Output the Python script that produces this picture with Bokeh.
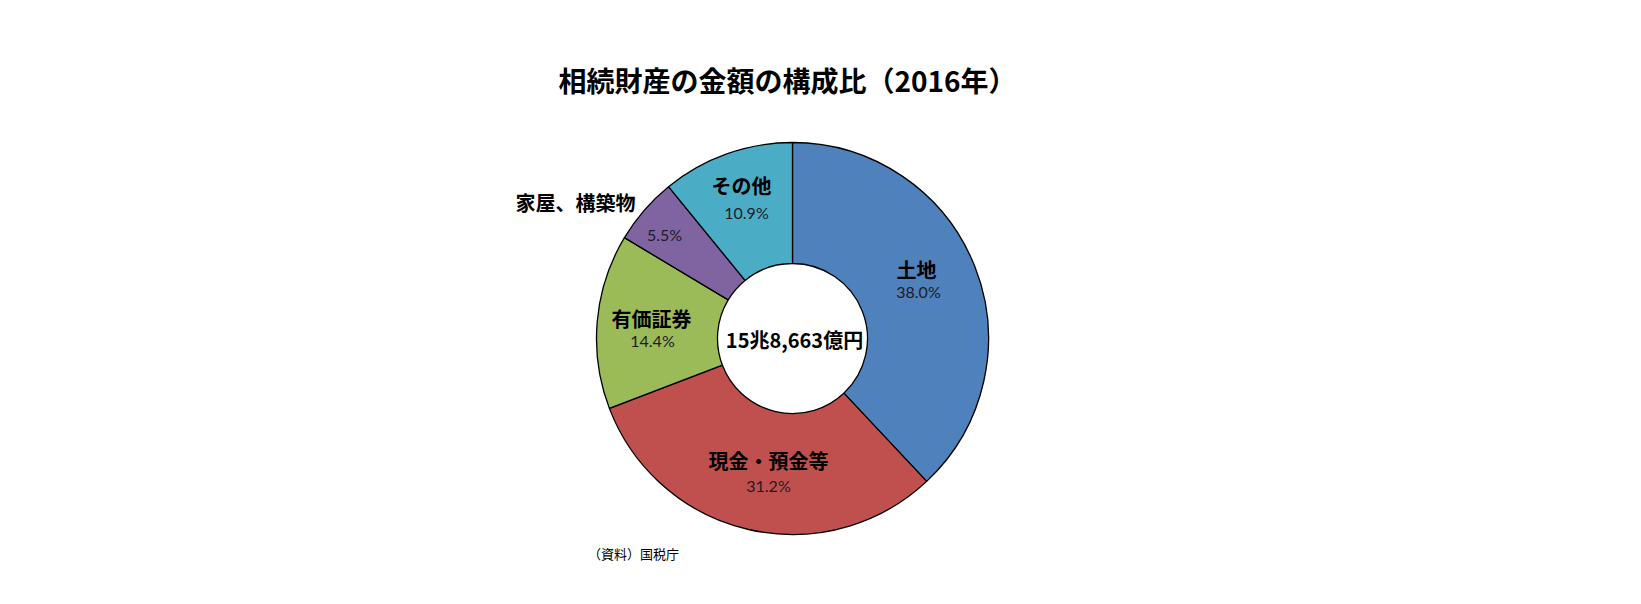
import numpy as np
from bokeh.plotting import figure
from bokeh.models import Range1d
from bokeh.core.properties import value
from bokeh.embed import file_html
from bokeh.resources import INLINE

# data (share of inheritance assets, 2016)
categories = ["土地", "現金・預金等", "有価証券", "家屋、構築物", "その他"]
shares = [38.0, 31.2, 14.4, 5.5, 10.9]
pct_labels = ["38.0%", "31.2%", "14.4%", "5.5%", "10.9%"]
colors = ["#4F81BD", "#C0504D", "#9BBB59", "#8064A2", "#4BACC6"]
total_label = "15兆8,663億円"
title_text = "相続財産の金額の構成比（2016年）"
source_text = "（資料）国税庁"

# layout (page pixels)
W, H = 1624, 586
CX, CY = 792, 338
R_OUT, R_IN = 196, 75
name_pos = [(916, 269), (768, 460), (651, 318), (575, 202), (741, 185)]
pct_pos = [(918, 291), (768, 485), (652, 340), (664, 234), (746, 212)]

JP = "Noto Sans CJK JP"


def sy(y):
    # screen y -> data y (data y grows upward)
    return 604 - y


p = figure(width=W, height=H, output_backend="svg", toolbar_location=None,
           x_range=Range1d(0, W), y_range=Range1d(604 - H, 604),
           x_axis_type=None, y_axis_type=None, min_border=0)
p.grid.grid_line_color = None
p.outline_line_color = None

frac = np.array(shares) / sum(shares)
cum = np.concatenate([[0], np.cumsum(frac)])
start = np.pi / 2 - cum[:-1] * 2 * np.pi
end = np.pi / 2 - cum[1:] * 2 * np.pi

p.annular_wedge(x=CX, y=sy(CY), inner_radius=R_IN, outer_radius=R_OUT,
                start_angle=start, end_angle=end, direction="clock",
                fill_color=colors, line_color="black", line_width=1.3)

p.text(x=[q[0] for q in name_pos], y=[sy(q[1]) for q in name_pos], text=categories,
       text_font=value(JP), text_font_style="bold", text_font_size="20px",
       text_color="black", text_align="center", text_baseline="middle")
p.text(x=[q[0] for q in pct_pos], y=[sy(q[1]) for q in pct_pos], text=pct_labels,
       text_font=value("Lato"), text_font_size="16px",
       text_color="#1c1c28", text_align="center", text_baseline="middle")

p.text(x=[CX + 2], y=[sy(CY + 1)], text=[total_label], text_font=value(JP),
       text_font_style="bold", text_font_size="20px", text_color="black",
       text_align="center", text_baseline="middle")
p.text(x=[787], y=[sy(79)], text=[title_text], text_font=value(JP),
       text_font_style="bold", text_font_size="28px", text_color="black",
       text_align="center", text_baseline="middle")
p.text(x=[633], y=[sy(553)], text=[source_text], text_font=value(JP),
       text_font_size="13px", text_color="black",
       text_align="center", text_baseline="middle")

open("out.html", "w").write(file_html(p, INLINE))
